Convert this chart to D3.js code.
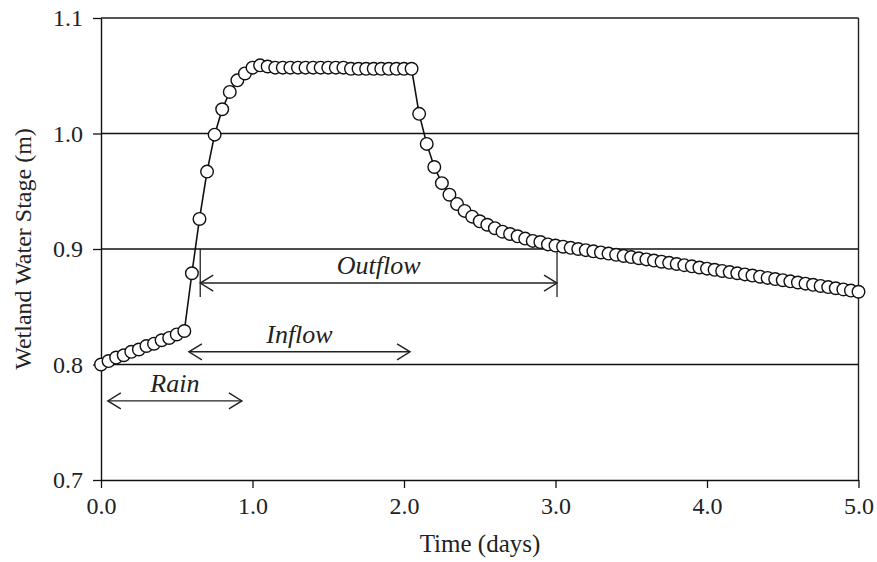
<!DOCTYPE html>
<html>
<head>
<meta charset="utf-8">
<script src="https://cdn.jsdelivr.net/npm/d3@7"></script>
<style>
  body { margin: 0; background: #fff; }
  svg text { font-family: "Liberation Serif", "DejaVu Serif", serif; fill: #222; }
</style>
</head>
<body>
<svg id="chart" width="877" height="562"></svg>
<script>
// time (days), one reading every 0.05 d
const days = [
  0.00, 0.05, 0.10, 0.15, 0.20, 0.25, 0.30, 0.35, 0.40, 0.45,
  0.50, 0.55, 0.60, 0.65, 0.70, 0.75, 0.80, 0.85, 0.90, 0.95,
  1.00, 1.05, 1.10, 1.15, 1.20, 1.25, 1.30, 1.35, 1.40, 1.45,
  1.50, 1.55, 1.60, 1.65, 1.70, 1.75, 1.80, 1.85, 1.90, 1.95,
  2.00, 2.05, 2.10, 2.15, 2.20, 2.25, 2.30, 2.35, 2.40, 2.45,
  2.50, 2.55, 2.60, 2.65, 2.70, 2.75, 2.80, 2.85, 2.90, 2.95,
  3.00, 3.05, 3.10, 3.15, 3.20, 3.25, 3.30, 3.35, 3.40, 3.45,
  3.50, 3.55, 3.60, 3.65, 3.70, 3.75, 3.80, 3.85, 3.90, 3.95,
  4.00, 4.05, 4.10, 4.15, 4.20, 4.25, 4.30, 4.35, 4.40, 4.45,
  4.50, 4.55, 4.60, 4.65, 4.70, 4.75, 4.80, 4.85, 4.90, 4.95,
  5.00
];
// wetland water stage (m)
const stage = [
  0.800, 0.803, 0.806, 0.808, 0.811, 0.813, 0.816, 0.818, 0.821, 0.823,
  0.826, 0.829, 0.879, 0.926, 0.967, 0.999, 1.021, 1.036, 1.046, 1.052,
  1.057, 1.059, 1.058, 1.057, 1.057, 1.057, 1.057, 1.057, 1.057, 1.057,
  1.057, 1.057, 1.057, 1.056, 1.056, 1.056, 1.056, 1.056, 1.056, 1.056,
  1.056, 1.056, 1.017, 0.991, 0.971, 0.957, 0.947, 0.939, 0.933, 0.928,
  0.924, 0.921, 0.918, 0.915, 0.913, 0.911, 0.909, 0.907, 0.906, 0.904,
  0.903, 0.902, 0.901, 0.900, 0.899, 0.898, 0.897, 0.896, 0.895, 0.894,
  0.893, 0.892, 0.891, 0.890, 0.889, 0.888, 0.887, 0.886, 0.885, 0.884,
  0.883, 0.882, 0.881, 0.880, 0.879, 0.878, 0.877, 0.876, 0.875, 0.874,
  0.873, 0.872, 0.871, 0.870, 0.869, 0.868, 0.867, 0.866, 0.865, 0.864,
  0.863
];
const xTicks = [0, 1, 2, 3, 4, 5];
const yTicks = [0.7, 0.8, 0.9, 1.0, 1.1];
const gridLines = [0.8, 0.9, 1.0];

// period arrows: label, start day, end day, stage level of arrow
const periods = ["Rain", "Inflow", "Outflow"];
const periodStart = [0.045, 0.58, 0.655];
const periodEnd = [0.93, 2.04, 3.01];
const periodLevel = [0.7685, 0.811, 0.8705];

const svg = d3.select("#chart");
const margin = {top: 18, right: 18.5, bottom: 82, left: 101};
const width = 877 - margin.left - margin.right;
const height = 562 - margin.top - margin.bottom;

const x = d3.scaleLinear().domain([0, 5]).range([0, width]);
const y = d3.scaleLinear().domain([0.7, 1.1]).range([height, 0]);

const g = svg.append("g").attr("transform", `translate(${margin.left},${margin.top})`);

// frame: top and right
g.append("line").attr("x1", 0).attr("x2", width).attr("y1", 0).attr("y2", 0)
  .attr("stroke", "#555").attr("stroke-width", 2);
g.append("line").attr("x1", width).attr("x2", width).attr("y1", 0).attr("y2", height)
  .attr("stroke", "#222").attr("stroke-width", 1.4);

g.selectAll("line.grid").data(gridLines).enter().append("line")
  .attr("class", "grid")
  .attr("x1", 0).attr("x2", width)
  .attr("y1", d => y(d)).attr("y2", d => y(d))
  .attr("stroke", "#111").attr("stroke-width", 1.3);

const xAxis = g.append("g").attr("transform", `translate(0,${height})`)
  .call(d3.axisBottom(x).tickValues(xTicks).tickFormat(d3.format(".1f")).tickSize(8).tickPadding(9).tickSizeOuter(0));
const yAxis = g.append("g")
  .call(d3.axisLeft(y).tickValues(yTicks).tickFormat(d3.format(".1f")).tickSize(8).tickPadding(10).tickSizeOuter(0));

[xAxis, yAxis].forEach(a => {
  a.select(".domain").attr("stroke", "#111").attr("stroke-width", 1.4);
  a.selectAll(".tick line").attr("stroke", "#111").attr("stroke-width", 1.3);
  a.selectAll(".tick text").attr("font-size", 24).attr("fill", "#222")
    .attr("font-family", "Liberation Serif, DejaVu Serif, serif");
});

// annotation arrows
const head = 13, spread = 8;
periods.forEach((p, i) => {
  const x1 = x(periodStart[i]), x2 = x(periodEnd[i]), yy = y(periodLevel[i]);
  const a = g.append("g").attr("stroke", "#222").attr("stroke-width", 1.4).attr("fill", "none");
  a.append("line").attr("x1", x1).attr("x2", x2).attr("y1", yy).attr("y2", yy);
  a.append("path").attr("d", `M${x1 + head},${yy - spread}L${x1},${yy}L${x1 + head},${yy + spread}`);
  a.append("path").attr("d", `M${x2 - head},${yy - spread}L${x2},${yy}L${x2 - head},${yy + spread}`);
  g.append("text")
    .attr("x", (x1 + x2) / 2)
    .attr("y", yy - 9)
    .attr("text-anchor", "middle")
    .attr("font-size", 26).attr("font-style", "italic")
    .text(p);
});
// outflow end markers
[periodStart[2], periodEnd[2]].forEach(d => {
  g.append("line").attr("x1", x(d)).attr("x2", x(d))
    .attr("y1", y(0.9)).attr("y2", y(0.8585))
    .attr("stroke", "#222").attr("stroke-width", 1.3);
});

const pts = days.map((d, i) => ({t: d, v: stage[i]}));
const line = d3.line().x(d => x(d.t)).y(d => y(d.v));
g.append("path").attr("d", line(pts)).attr("fill", "none")
  .attr("stroke", "#111").attr("stroke-width", 1.6);
g.selectAll("circle.pt").data(pts).enter().append("circle")
  .attr("class", "pt")
  .attr("cx", d => x(d.t)).attr("cy", d => y(d.v)).attr("r", 6.3)
  .attr("fill", "#fff").attr("stroke", "#111").attr("stroke-width", 1.4);

// axis titles
svg.append("text").attr("x", 480).attr("y", 552)
  .attr("text-anchor", "middle").attr("font-size", 25).text("Time (days)");
svg.append("text")
  .attr("transform", `translate(31,${margin.top + y(0.9)}) rotate(-90)`)
  .attr("text-anchor", "middle").attr("font-size", 24).text("Wetland Water Stage (m)");
</script>
</body>
</html>
